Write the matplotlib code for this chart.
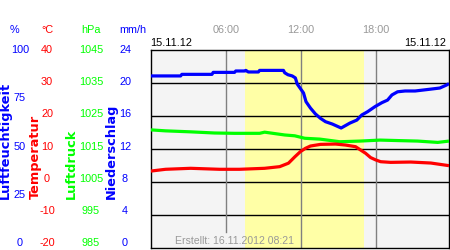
import matplotlib
matplotlib.use("Agg")
import matplotlib.pyplot as plt

# ---- data ----
hum_hours = [0, 2.4, 2.5, 4.9, 5.0, 6.7, 6.8, 7.5, 7.6, 7.8, 8.6, 8.7, 10.6, 10.7, 10.96, 11.3, 11.55,
             11.7, 12.2, 12.4, 12.75, 13.15, 13.55, 13.95, 14.5, 15.2, 15.9, 16.45, 16.85, 17.3,
             17.9, 18.45, 18.9, 19.25, 19.7, 20.3, 21.1, 22.3, 23.07, 23.6, 23.8]
hum_vals = [86.9, 86.9, 87.7, 87.7, 88.7, 88.7, 89.4, 89.4, 89.7, 88.9, 88.9, 89.7, 89.7, 88.5, 87.5, 86.9, 85.9,
            82.8, 78.3, 73.9, 70.7, 67.7, 65.5, 63.8, 62.6, 60.6, 63.1, 64.6, 67.2, 68.8,
            71.4, 73.4, 74.7, 77.3, 78.9, 79.3, 79.3, 80.2, 80.8, 82.3, 83.0]

pres_hours = [0, 1.2, 3.2, 5.1, 6.7, 8.7, 9.1, 10.7, 11.5, 12.3, 13.5, 15.1, 16.7, 18.3, 19.75, 21.3, 22.9, 23.8]
pres_vals = [1020.8, 1020.5, 1020.2, 1019.85, 1019.75, 1019.75, 1020.1, 1019.25, 1019.0, 1018.25,
             1018.0, 1017.2, 1017.4, 1017.7, 1017.55, 1017.4, 1017.0, 1017.4]

temp_hours = [0, 1.2, 3.2, 5.5, 7.1, 9.1, 10.3, 11.0, 11.5, 11.95, 12.35, 12.75, 13.55, 14.75, 15.55,
              16.35, 16.75, 17.15, 17.55, 17.95, 18.35, 19.15, 20.75, 22.35, 23.8]
temp_vals = [3.3, 3.85, 4.15, 3.85, 3.85, 4.15, 4.65, 5.7, 7.6, 9.2, 10.2, 10.9, 11.4, 11.5, 11.2,
             10.7, 9.7, 8.7, 7.4, 6.7, 6.15, 5.95, 6.05, 5.75, 4.95]

hum_ticks = [100, 75, 50, 25, 0]
temp_ticks = [40, 30, 20, 10, 0, -10, -20]
pres_ticks = [1045, 1035, 1025, 1015, 1005, 995, 985]
rain_ticks = [24, 20, 16, 12, 8, 4, 0]
hour_ticks = [6, 12, 18]
hour_labels = ["06:00", "12:00", "18:00"]
daylight = (7.55, 17.0)
date_label = "15.11.12"
created = "Erstellt: 16.11.2012 08:21"

BLUE = "#0000ff"
RED = "#ff0000"
GREEN = "#00ff00"
GRAY = "#999999"

W, H = 450, 250
fig = plt.figure(figsize=(W / 100, H / 100), dpi=100)
fig.patch.set_facecolor("white")
L, R, T, B = 150.5, 449.0, 50.0, 248.0
ax = fig.add_axes([L / W, 1 - B / H, (R - L) / W, (B - T) / H])
ax.set_facecolor("#f4f4f4")
ax.set_xlim(0, 23.8)
ax.set_ylim(0, 6)
for s in ax.spines.values():
    s.set_color("black")
    s.set_linewidth(1.0)
ax.set_xticks([])
ax.set_yticks([])

ax.axvspan(daylight[0], daylight[1], color="#ffffa6", zorder=0.5, lw=0)
for k in range(1, 6):
    ax.axhline(k, color="black", lw=1.0, zorder=1)
for i, h in enumerate(hour_ticks):
    ymin = 16 / 198 if i == 0 else 0
    ax.axvline(h, ymin=ymin, ymax=1, color="#808080", lw=1.0, zorder=1)

# scale helpers: map each quantity to 0..6 grid units
hum_y = [v / 100 * 6 for v in hum_vals]
temp_y = [(v + 20) / 10 for v in temp_vals]
pres_y = [(v - 985) / 10 for v in pres_vals]

ax.plot(pres_hours, pres_y, color=GREEN, lw=2.3, zorder=3, solid_capstyle="butt")
ax.plot(temp_hours, temp_y, color=RED, lw=2.3, zorder=3, solid_capstyle="butt")
ax.plot(hum_hours, hum_y, color=BLUE, lw=2.3, zorder=4, solid_capstyle="butt")

ax.text((175 - L) / (R - L), (B - 240.5) / (B - T), created,
        transform=ax.transAxes, color=GRAY, fontsize=7.6, family="Liberation Sans",
        ha="left", va="center", zorder=5)

tf = dict(family="Liberation Sans", fontsize=7.8)

def ftext(xp, yp, s, **kw):
    fig.text(xp / W, 1 - yp / H, s, **kw)

# hour labels & dates
for h, lab in zip(hour_ticks, hour_labels):
    xp = L + h / 23.8 * (R - L)
    ftext(xp, 30, lab, color=GRAY, ha="center", va="center", **tf)
ftext(150.5, 43, date_label, color="black", ha="left", va="center", **tf)
ftext(446, 43, date_label, color="black", ha="right", va="center", **tf)

# unit labels
ftext(14, 30, "%", color=BLUE, ha="center", va="center", **tf)
ftext(47, 30, "°C", color=RED, ha="center", va="center", **tf)
ftext(90.5, 30, "hPa", color=GREEN, ha="center", va="center", **tf)
ftext(132.5, 30, "mm/h", color=BLUE, ha="center", va="center", **tf)

# tick labels
def lab_y(frac):
    return 50 + (1 - frac) * 193

for v in hum_ticks:
    ftext(20, lab_y(v / 100), str(v), color=BLUE, ha="center", va="center", **tf)
for v in temp_ticks:
    ftext(47, lab_y((v + 20) / 60), str(v), color=RED, ha="center", va="center", **tf)
for v in pres_ticks:
    ftext(91, lab_y((v - 985) / 60), str(v), color=GREEN, ha="center", va="center", **tf)
for v in rain_ticks:
    ftext(125, lab_y(v / 24), str(v), color=BLUE, ha="center", va="center", **tf)

# rotated axis titles
rf = dict(family="DejaVu Sans", fontweight="bold", fontsize=9.3, rotation=90,
          ha="center", va="bottom")
ftext(5.5, 199, "Luftfeuchtigkeit", color=BLUE, **rf)
ftext(35.5, 199, "Temperatur", color=RED, **rf)
ftext(71.5, 199, "Luftdruck", color=GREEN, **rf)
ftext(111.5, 199, "Niederschlag", color=BLUE, **rf)

fig.savefig("out.png", dpi=100, facecolor="white")
